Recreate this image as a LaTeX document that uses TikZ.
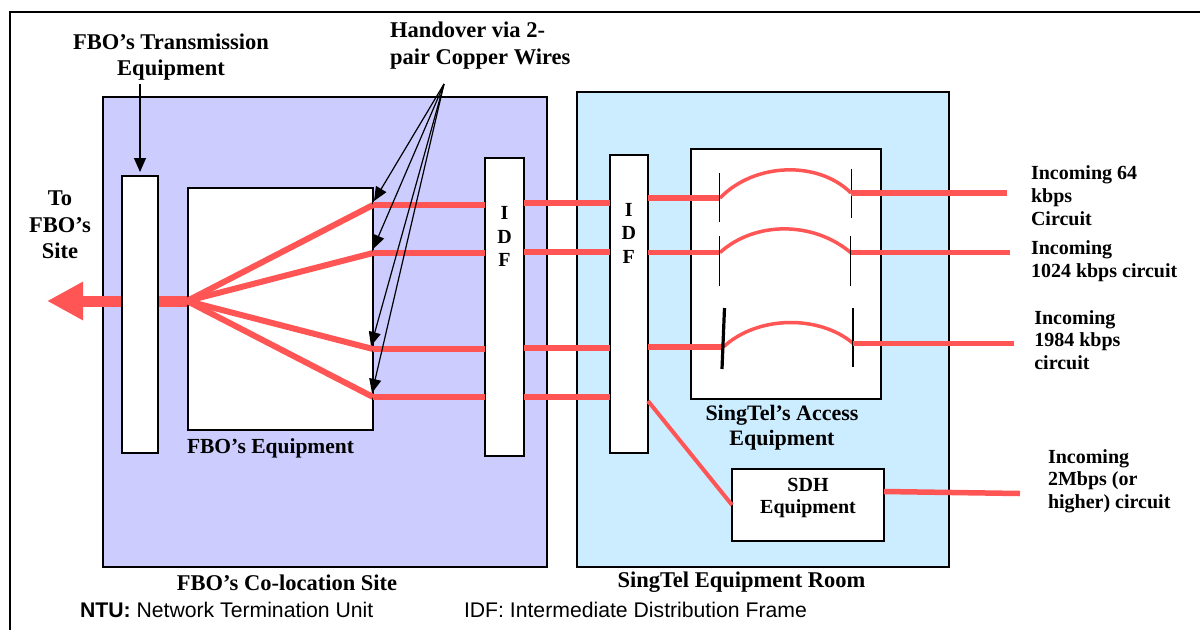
\documentclass[tikz,border=0pt]{standalone}
\usepackage{fontspec}
\setmainfont{Liberation Serif}
\newfontfamily\arialf{Liberation Sans}
\usetikzlibrary{arrows.meta}
\definecolor{purp}{RGB}{204,204,255}
\definecolor{skyb}{RGB}{204,236,255}
\definecolor{wire}{RGB}{255,85,85}
\tikzset{
  box/.style={draw=black, line width=1.5pt, fill=white, inner sep=0pt, outer sep=0pt, anchor=north west},
  wirest/.style={draw=wire, line width=5.5pt},
  fanst/.style={draw=wire, line width=6pt},
  curvest/.style={draw=wire, line width=3.5pt},
  barst/.style={draw=black, line width=1.3pt},
  ann/.style={draw=black, line width=1.2pt, -{Triangle[length=14pt,width=12pt]}},
  lbl/.style={inner sep=0pt, outer sep=0pt, font=\bfseries\fontsize{22.5pt}{26.5pt}\selectfont},
  rlbl/.style={inner sep=0pt, outer sep=0pt, align=left, anchor=north west, font=\bfseries\fontsize{20pt}{23pt}\selectfont},
  idfl/.style={inner sep=0pt, outer sep=0pt, align=center, anchor=north, font=\bfseries\fontsize{20pt}{23.5pt}\selectfont},
  note/.style={inner sep=0pt, outer sep=0pt, anchor=base west, font=\arialf\fontsize{21.2pt}{25pt}\selectfont}
}
\begin{document}
\begin{tikzpicture}[x=1pt,y=-1pt]
\useasboundingbox (0,0) rectangle (1200,630);
\fill[white] (0,0) rectangle (1200,630);
% outer frame
\draw[line width=2pt] (10,630) -- (10,12) -- (1200,12);

% rooms
\node[box, fill=purp, minimum width=444pt, minimum height=470pt] (site) at (103,97) {};
\node[box, fill=skyb, minimum width=372pt, minimum height=475pt] (room) at (577,92) {};

% coordinates
\coordinate (fan) at (187,301);
\coordinate (tosite) at (47,301);
\coordinate (e1) at (373,205);
\coordinate (e2) at (373,253);
\coordinate (e3) at (373,349);
\coordinate (e4) at (373,397);

% thick line to FBO's site
\draw[draw=wire, line width=11pt, -{Triangle[length=36pt,width=36pt]}] (fan) -- (tosite);

% equipment boxes
\node[box, minimum width=36pt, minimum height=277pt] (ntu) at (122,176) {};
\node[box, minimum width=185pt, minimum height=242pt] (fboeq) at (188,188) {};
\node[box, minimum width=190pt, minimum height=250pt] (access) at (691,149) {};
\node[box, minimum width=152pt, minimum height=72pt] (sdh) at (732,469) {};

% fan lines
\draw[fanst] (fan) -- (e1);
\draw[fanst] (fan) -- (e2);
\draw[fanst] (fan) -- (e3);
\draw[fanst] (fan) -- (e4);

% IDF boxes
\node[box, minimum width=39pt, minimum height=298pt] (idfa) at (485,158) {};
\node[box, minimum width=38pt, minimum height=298pt] (idfb) at (610,155) {};

% horizontal wires to first IDF
\draw[wirest] (e1) -- (idfa.west |- e1);
\draw[wirest] (e2) -- (idfa.west |- e2);
\draw[wirest] (e3) -- (idfa.west |- e3);
\draw[wirest] (e4) -- (idfa.west |- e4);

% between IDFs
\draw[wirest] (idfa.east |- 0,203) -- (idfb.west |- 0,203);
\draw[wirest] (idfa.east |- 0,252) -- (idfb.west |- 0,252);
\draw[wirest] (idfa.east |- 0,348) -- (idfb.west |- 0,348);
\draw[wirest] (idfa.east |- 0,397) -- (idfb.west |- 0,397);

% access equipment internals
\coordinate (a1) at (720,198);
\coordinate (b1) at (851,193);
\coordinate (a2) at (720,252.5);
\coordinate (b2) at (850.6,252.5);
\coordinate (a3) at (723.3,347);
\coordinate (b3) at (853,343.3);
\coordinate (o1) at (1007,193);
\coordinate (o2) at (1010,252.5);
\coordinate (o3) at (1014,343.3);
\coordinate (o4) at (1020,493.5);

\draw[wirest] (idfb.east |- a1) -- (a1);
\draw[wirest] (idfb.east |- a2) -- (a2);
\draw[wirest] (idfb.east |- a3) -- (a3);

\draw[curvest] (a1) .. controls (755,162) and (818.6,160.7) .. (b1);
\draw[curvest] (a2) .. controls (755,221) and (813,221) .. (b2);
\draw[curvest] (a3) .. controls (758,315) and (819.6,315) .. (b3);

\draw[barst] (719.6,173) -- (719.6,222);
\draw[barst] (851.8,169) -- (851.8,218);
\draw[barst] (719.6,236) -- (719.6,285.7);
\draw[barst] (850.6,236) -- (850.6,285.7);
\draw[draw=black, line width=3.2pt] (724.5,308) -- (722,369);
\draw[barst] (853,308) -- (853,366.7);

\draw[wirest] (b1) -- (o1);
\draw[wirest] (b2) -- (o2);
\draw[wirest] (b3) -- (o3);

% IDF to SDH and SDH out
\draw[draw=wire, line width=4pt] (idfb.east |- 0,401) -- (sdh.west |- 0,505);
\draw[wirest] (sdh.east |- 0,491.5) -- (o4);

% labels
\node[lbl, align=center, anchor=north] (trans) at (171,33.5) {FBO’s Transmission\\Equipment};
\node[lbl, align=left, anchor=north west] (hand) at (390,22.2) {Handover via 2-\\pair Copper Wires};
\node[lbl, align=center, anchor=north] (tofbo) at (60,190.8) {To\\FBO’s\\Site};
\node[lbl, anchor=base west, font=\bfseries\fontsize{21.5pt}{25pt}\selectfont] (fboeqlbl) at (187,453.3) {FBO’s Equipment};
\node[lbl, align=center, anchor=north, font=\bfseries\fontsize{22pt}{24.5pt}\selectfont] (acclbl) at (782,405.4) {SingTel’s Access\\Equipment};
\node[lbl, align=center, anchor=north, font=\bfseries\fontsize{20pt}{22pt}\selectfont] (sdhlbl) at (808,478.5) {SDH\\Equipment};
\node[lbl, anchor=base] (sitelbl) at (287,590.7) {FBO’s Co-location Site};
\node[lbl, anchor=base] (roomlbl) at (741.5,587.3) {SingTel Equipment Room};

\node[idfl] (idfatxt) at (504.5,206.5) {I\\D\\F};
\node[idfl] (idfbtxt) at (628.8,203.2) {I\\D\\F};

\node[rlbl] (in1) at (1031,165.5) {Incoming 64\\kbps\\Circuit};
\node[rlbl] (in2) at (1031,240.2) {Incoming\\1024 kbps circuit};
\node[rlbl, font=\bfseries\fontsize{20pt}{22.7pt}\selectfont] (in3) at (1034.3,310.2) {Incoming\\1984 kbps\\circuit};
\node[rlbl, font=\bfseries\fontsize{20pt}{22.5pt}\selectfont] (in4) at (1048,449.5) {Incoming\\2Mbps (or\\higher) circuit};

\node[note] (ntunote) at (80,617) {\textbf{NTU:} Network Termination Unit};
\node[note] (idfnote) at (464,617) {IDF: Intermediate Distribution Frame};

% annotation arrows
\coordinate (hsrc) at (444,84);
\coordinate (t1) at (374,201);
\coordinate (t2) at (373,249);
\coordinate (t3) at (371,346);
\coordinate (t4) at (372,393);
\draw[ann] (hsrc) -- (t1);
\draw[ann] (hsrc) -- (t2);
\draw[ann] (hsrc) -- (t3);
\draw[ann] (hsrc) -- (t4);
\draw[ann] (ntu.north |- 0,84) -- ([yshift=4pt]ntu.north);
\end{tikzpicture}
\end{document}
